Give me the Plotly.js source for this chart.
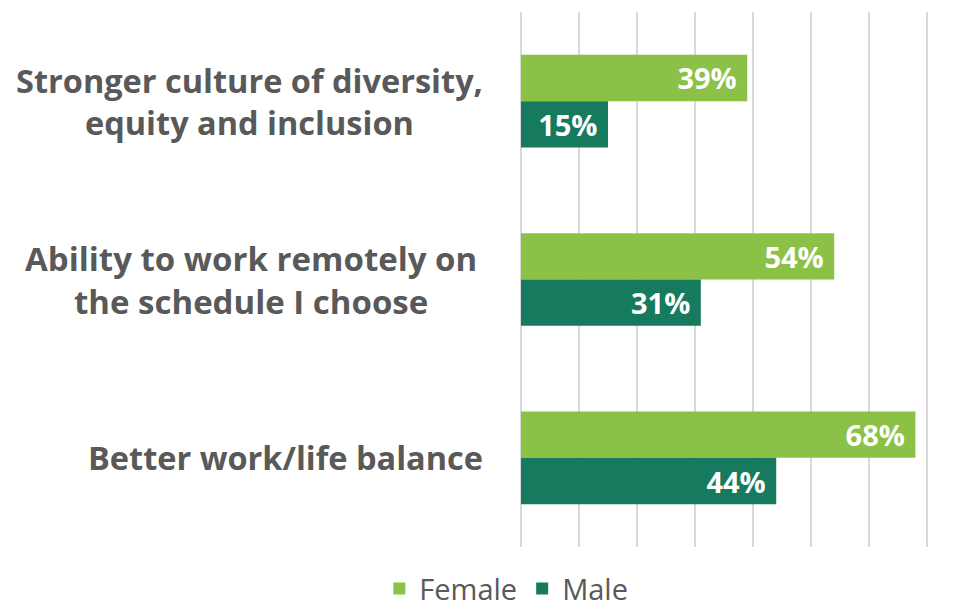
<!DOCTYPE html>
<html><head><meta charset="utf-8">
<script src="https://cdn.plot.ly/plotly-3.0.1.min.js"></script>
<style>html,body{margin:0;padding:0;background:#fff}</style>
</head><body><div id="chart" style="width:970px;height:612px"></div>
<script>
const categories = ["Stronger culture of diversity,<br>equity and inclusion", "Ability to work remotely on<br>the schedule I choose", "Better work/life balance"];
const female = [39, 54, 68];
const male = [15, 31, 44];
const seriesNames = ["Female", "Male"];

const font = "'Open Sans', 'Liberation Sans', sans-serif";
const traces = [
  {type:'bar', orientation:'h', name:seriesNames[0], y:categories, x:female,
   marker:{color:'#8BC147'}, texttemplate:'%{x}%\u00a0', textposition:'inside', insidetextanchor:'end',
   textfont:{color:'#ffffff', size:29, family:font, weight:'bold'}, hoverinfo:'none'},
  {type:'bar', orientation:'h', name:seriesNames[1], y:categories, x:male,
   marker:{color:'#167A5E'}, texttemplate:'%{x}%\u00a0', textposition:'inside', insidetextanchor:'end',
   textfont:{color:'#ffffff', size:29, family:font, weight:'bold'}, hoverinfo:'none'}
];
const annotations = categories.map((c, i) => ({
  xref:'paper', yref:'y', x:0, y:c, xanchor:'right', yanchor:'middle', xshift:(i === 1 ? -42 : -36),
  text:c, showarrow:false, align:'center',
  font:{family:font, size:(i === 1 ? 33 : 32.5), color:'#595959', weight:'bold'}
}));
const layout = {
  width:970, height:612,
  margin:{l:521, r:41, t:12, b:65, autoexpand:false},
  paper_bgcolor:'#fff', plot_bgcolor:'#fff',
  barmode:'group', bargap:0.48, bargroupgap:0,
  font:{family:font, color:'#595959'},
  xaxis:{range:[0,70.34], tick0:0, dtick:10, showgrid:true, gridcolor:'#d9d9d9', gridwidth:1.5,
         zeroline:true, zerolinecolor:'#d9d9d9', zerolinewidth:1.5, showticklabels:false, showline:false, fixedrange:true},
  yaxis:{autorange:'reversed', showticklabels:false, showgrid:false, zeroline:false, showline:false, ticks:''},
  showlegend:true,
  legend:{orientation:'h', xref:'container', x:0.522, xanchor:'center', yref:'paper', y:-0.078, yanchor:'middle',
          font:{family:font, size:29, color:'#595959'}, traceorder:'normal', itemwidth:30},
  annotations:annotations
};
Plotly.newPlot('chart', traces, layout, {displayModeBar:false, staticPlot:true});
</script></body></html>
